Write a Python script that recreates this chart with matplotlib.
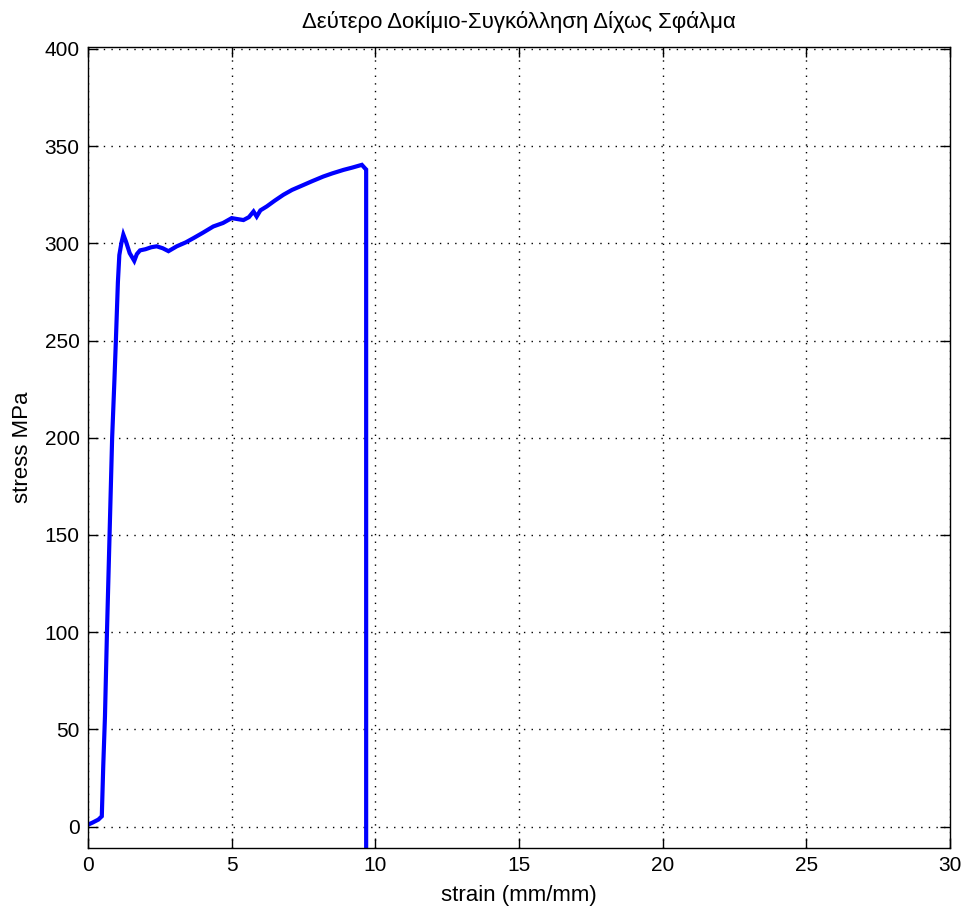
import matplotlib
matplotlib.use("Agg")
import matplotlib.pyplot as plt

plt.rcParams['font.family'] = ['Liberation Sans', 'DejaVu Sans']

# Stress-strain record of the welded specimen
strain = [0.0, 0.15, 0.36, 0.48, 0.53, 0.59, 0.66, 0.75, 0.84, 0.92, 0.97, 1.04, 1.09,
          1.16, 1.23, 1.32, 1.45, 1.61, 1.70, 1.81, 2.0, 2.2, 2.39, 2.6, 2.8, 3.09,
          3.4, 3.67, 4.0, 4.36, 4.7, 5.0, 5.2, 5.41, 5.6, 5.76, 5.87, 6.0, 6.22,
          6.5, 6.8, 7.1, 7.49, 7.8, 8.19, 8.5, 8.89, 9.2, 9.53, 9.64, 9.68, 9.68, 9.68]
stress = [1.0, 2.0, 3.6, 5.3, 31.0, 56.6, 100.0, 150.0, 200.0, 230.0, 250.0, 280.0, 294.0,
          300.0, 304.5, 301.0, 295.0, 291.0, 294.5, 296.4, 297.0, 298.0, 298.5, 297.5, 296.0, 298.5,
          300.5, 302.7, 305.5, 308.7, 310.5, 313.0, 312.5, 312.0, 313.5, 316.4, 313.8, 317.0, 319.0,
          322.0, 325.0, 327.5, 330.0, 332.0, 334.4, 336.0, 337.8, 339.0, 340.4, 338.6, 338.0, 215.0, -15.0]

x_ticks = [0, 5, 10, 15, 20, 25, 30]
y_ticks = [0, 50, 100, 150, 200, 250, 300, 350, 400]

fig = plt.figure(figsize=(9.65, 9.08), dpi=100)
ax = fig.add_axes([0.0912, 0.0661, 0.8933, 0.8821])

ax.plot(strain, stress, color='#0000ff', linewidth=3.0, solid_joinstyle='miter')

ax.set_xlim(0, 30)
ax.set_ylim(-11, 401)
ax.set_xticks(x_ticks)
ax.set_yticks(y_ticks)
ax.grid(True, which='major', linestyle=(0, (1, 4.5)), color='black', linewidth=1.0)

ax.tick_params(axis='both', which='major', direction='in', top=True, right=True,
               length=7, width=1, labelsize=15, pad=6)
for s in ax.spines.values():
    s.set_linewidth(1.0)

ax.set_xlabel('strain (mm/mm)', fontsize=16, labelpad=7)
ax.set_ylabel('stress MPa', fontsize=16, labelpad=8)
ax.set_title('Δεύτερο Δοκίμιο-Συγκόλληση Δίχως Σφάλμα', fontsize=16, pad=14)

fig.savefig('out.png', dpi=100)
